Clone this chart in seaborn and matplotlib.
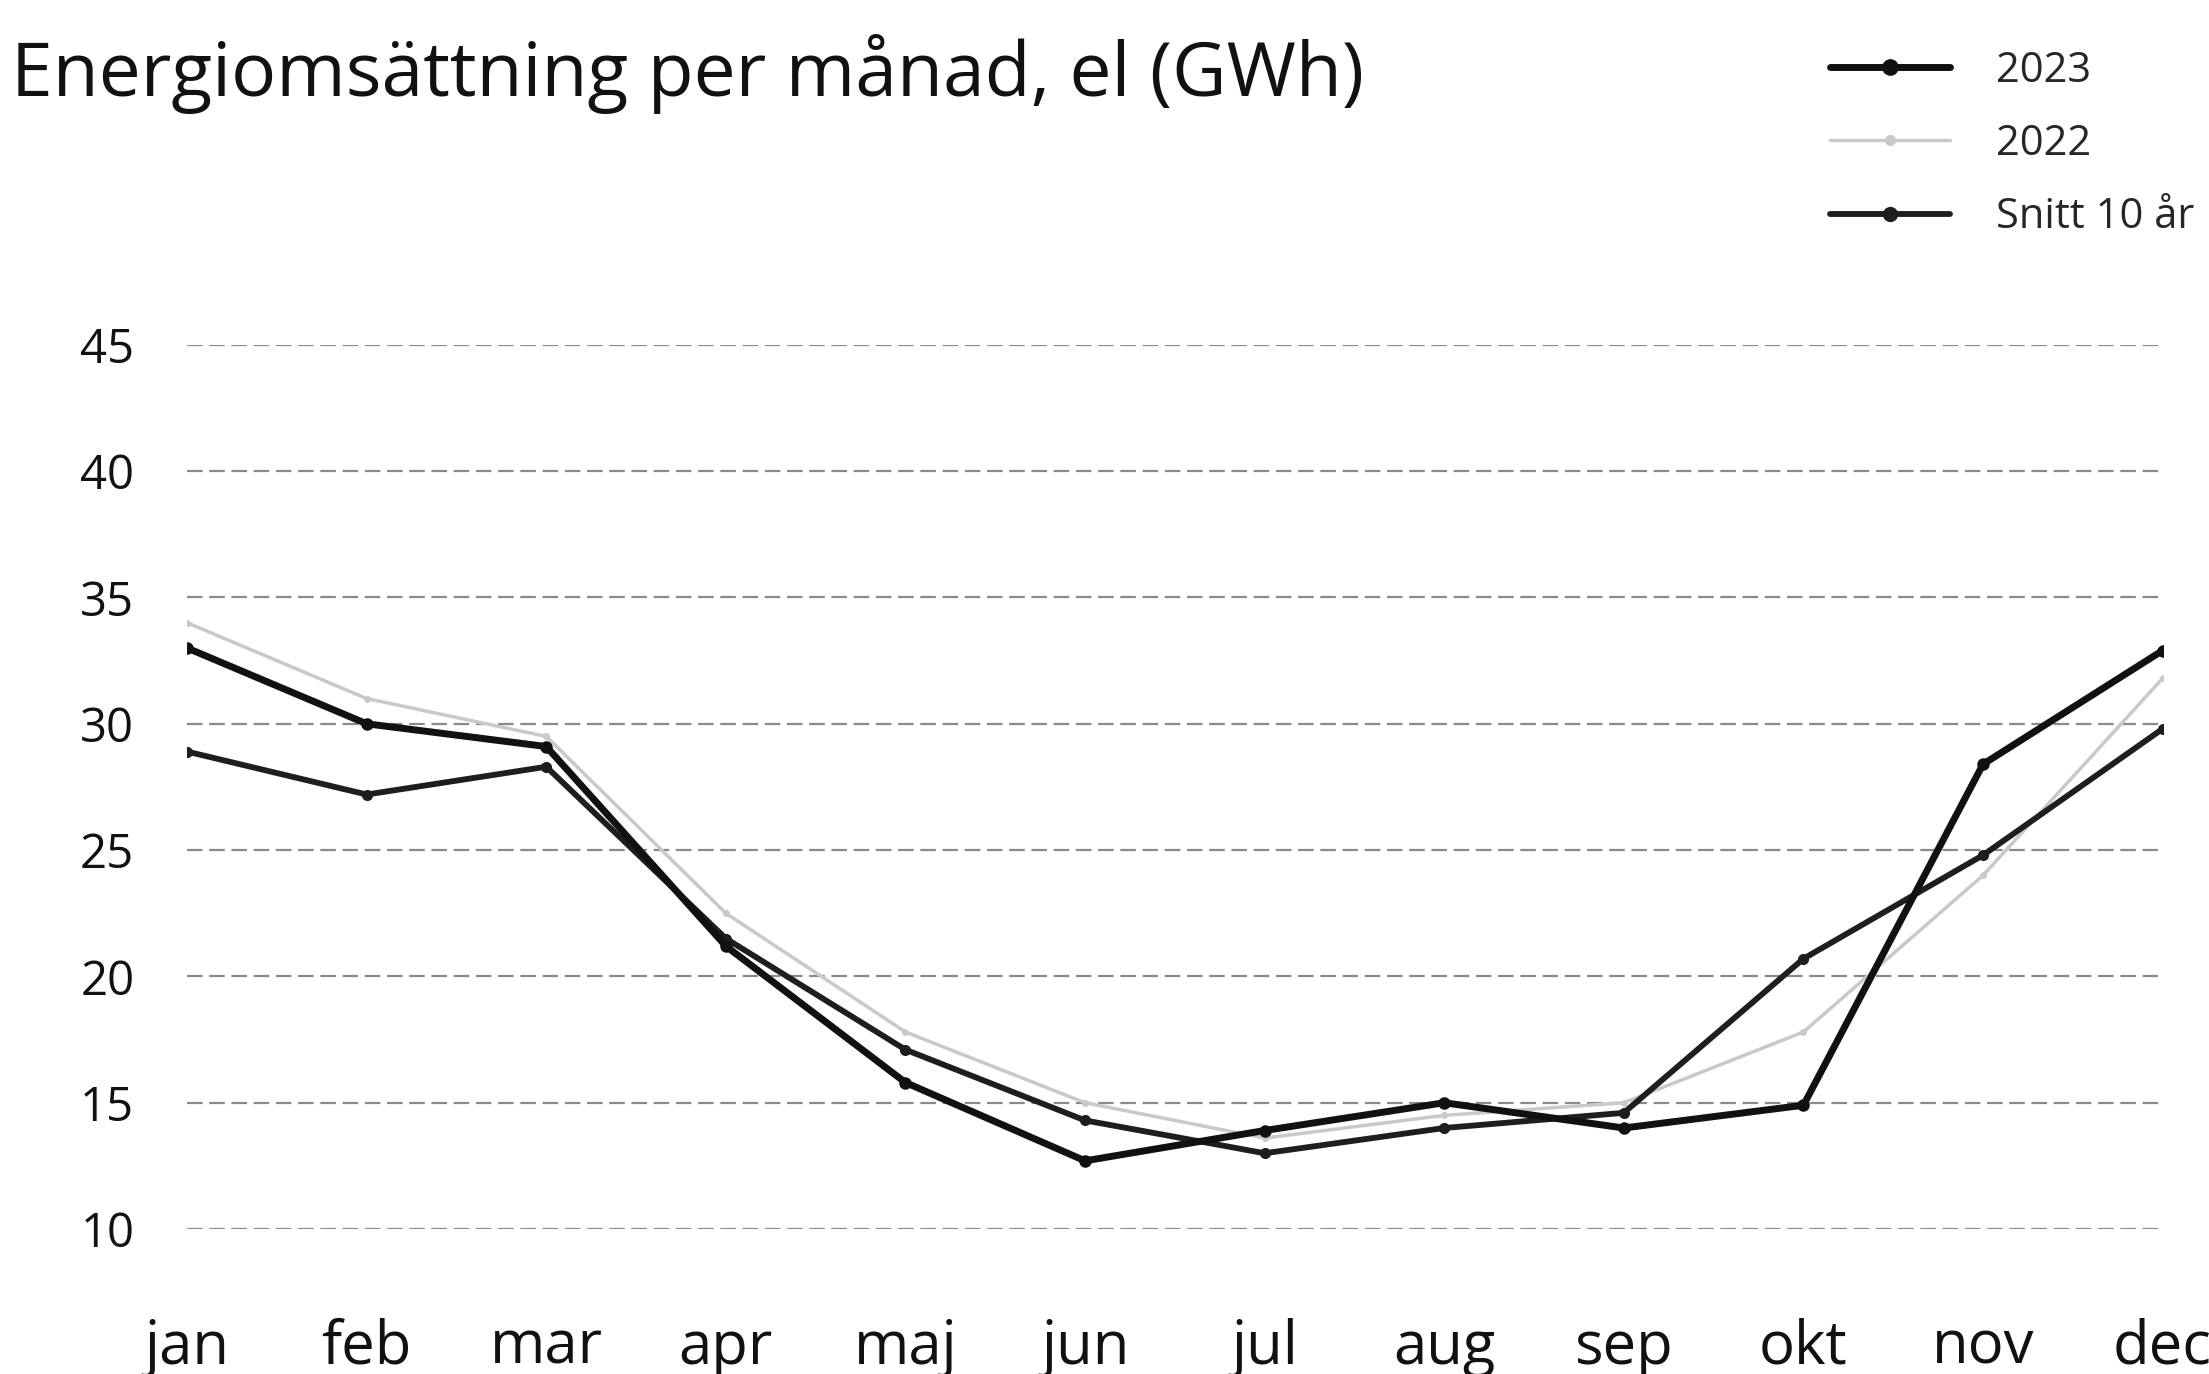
import numpy as np
import pandas as pd
import matplotlib
matplotlib.use("Agg")
import matplotlib.pyplot as plt
import seaborn as sns

# ── Data (GWh per month) ─────────────────────────────
MONTHS = ["jan", "feb", "mar", "apr", "maj", "jun",
          "jul", "aug", "sep", "okt", "nov", "dec"]
EL_2023 = [33.0, 30.0, 29.1, 21.2, 15.8, 12.7, 13.9, 15.0, 14.0, 14.9, 28.4, 32.9]
EL_2022 = [34.0, 31.0, 29.5, 22.5, 17.8, 15.0, 13.6, 14.5, 15.0, 17.8, 24.0, 31.8]
EL_SNITT = [28.9, 27.2, 28.3, 21.5, 17.1, 14.3, 13.0, 14.0, 14.6, 20.7, 24.8, 29.8]
SERIES = ["2023", "2022", "Snitt 10 år"]
Y_TICKS = [10, 15, 20, 25, 30, 35, 40, 45]

df = pd.DataFrame({
    "idx": list(range(len(MONTHS))) * 3,
    "value": EL_2023 + EL_2022 + EL_SNITT,
    "serie": [s for s in SERIES for _ in MONTHS],
})

sns.set_theme(style="white")
plt.rcParams["font.family"] = ["Open Sans", "DejaVu Sans"]

fig = plt.figure(figsize=(22.09, 13.74), dpi=100)
ax = fig.add_axes([0.0847, 0.1055, 0.8943, 0.6435])

styles = {
    "2023":        dict(color="#111111", lw=5.0, ms=9),
    "2022":        dict(color="#c9c9c9", lw=2.5, ms=5),
    "Snitt 10 år": dict(color="#1e1e1e", lw=4.2, ms=8),
}
for s in ["2022", "Snitt 10 år", "2023"]:
    st = styles[s]
    sns.lineplot(data=df[df["serie"] == s], x="idx", y="value", ax=ax,
                 color=st["color"], linewidth=st["lw"], marker="o",
                 markersize=st["ms"], markeredgewidth=0, label=s, legend=False)

# grid
for y in Y_TICKS:
    ax.axhline(y, color="#8a8a8a", lw=1.6, ls=(0, (7, 3)), zorder=0)

ax.set_xlim(0, len(MONTHS) - 1)
ax.set_ylim(10, 45)
ax.set_xticks(range(len(MONTHS)))
ax.set_xticklabels(MONTHS, fontsize=43, color="#111")
ax.set_yticks(Y_TICKS)
ax.set_yticklabels([str(t) for t in Y_TICKS], fontsize=34, color="#111")
ax.tick_params(axis="x", pad=64, length=0)
ax.tick_params(axis="y", pad=38, length=0)
ax.set_xlabel("")
ax.set_ylabel("")
sns.despine(ax=ax, left=True, bottom=True)

fig.text(0.005, 0.975, "Energiomsättning per månad, el (GWh)",
         fontsize=54, color="#111", va="top", ha="left")

handles = []
for s in SERIES:
    st = styles[s]
    h, = ax.plot([], [], color=st["color"], lw=st["lw"], marker="o",
                 ms=st["ms"] + 3, markeredgewidth=0)
    handles.append(h)
fig.legend(handles, SERIES, loc="upper left", bbox_to_anchor=(0.815, 0.985),
           frameon=False, fontsize=30, handlelength=2.9, labelspacing=0.75,
           handletextpad=1.1, borderaxespad=0.3)

fig.savefig("out.png", dpi=100)
